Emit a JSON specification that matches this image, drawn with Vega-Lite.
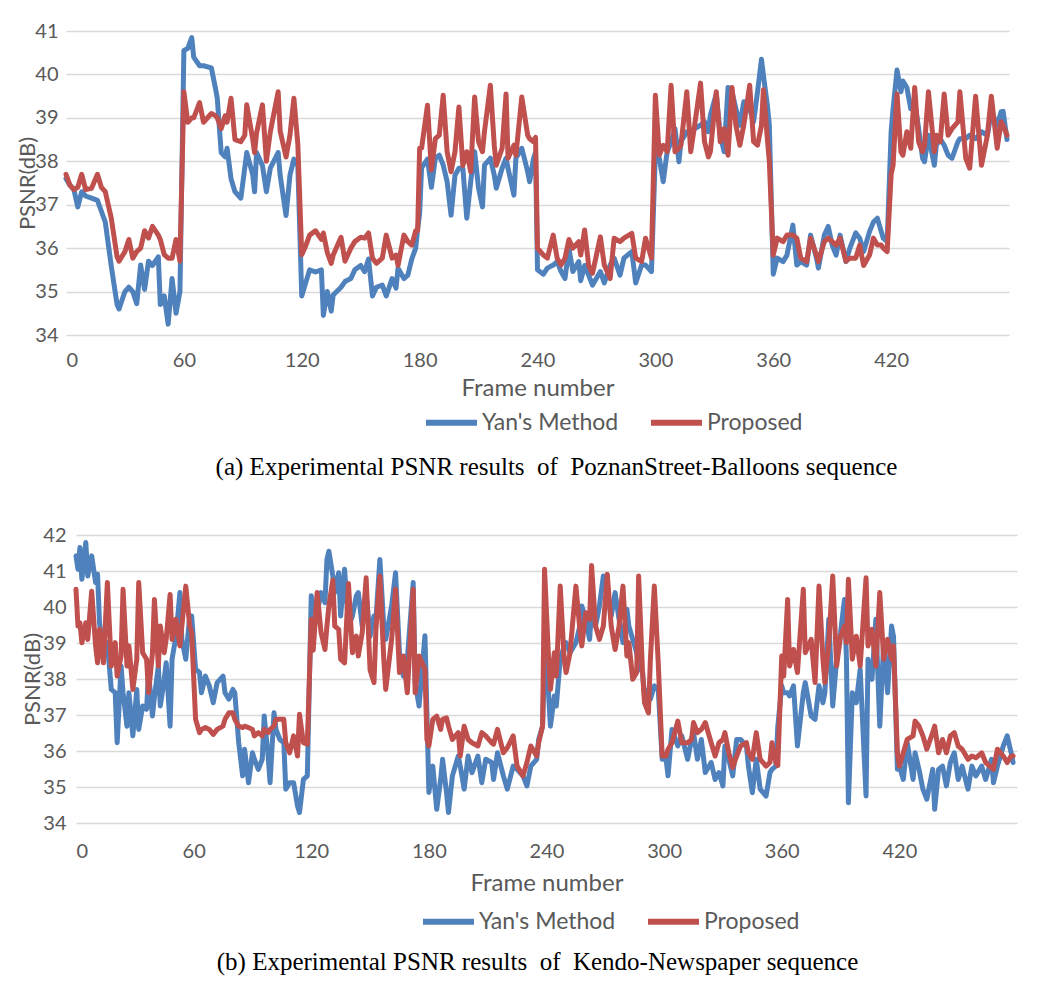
{
"$schema":"https://vega.github.io/schema/vega-lite/v6.json",
"autosize":{"type":"pad"},
"padding":{"left":16,"top":21,"right":5,"bottom":5},
"background":"white",
"config":{"view":{"stroke":null},"font":"Lato",
"axis":{"labelFont":"Lato","titleFont":"Lato","labelColor":"#595959","titleColor":"#595959","gridColor":"#d9d9d9","gridWidth":1.5,"domain":false,"ticks":false,"tickSize":0,"titleFontWeight":"normal","labelFontSize":20,"titleFontSize":24},
"legend":{"labelFont":"Lato","labelFontSize":23,"labelColor":"#595959","symbolType":"stroke","symbolStrokeWidth":6,"symbolSize":2600,"labelOffset":2,"columnPadding":20,"direction":"horizontal","orient":"none","title":null},
"title":{"font":"Liberation Serif","fontSize":25,"fontWeight":"normal","color":"black","orient":"bottom","anchor":"middle"}},
"spacing":45,
"columns":1,
"align":"none",
"resolve":{"scale":{"color":"independent"},"legend":{"color":"independent"}},
"concat":[
{"width":943,"height":304,
"title":{"text":"(a) Experimental PSNR results\u00a0 of\u00a0 PoznanStreet-Balloons sequence","offset":20,"dx":19},
"data":{"values":[
{"f":0,"Yan":37.6,"Prop":37.7},{"f":2,"Yan":37.45,"Prop":37.45},{"f":4,"Yan":37.35,"Prop":37.35},{"f":6,"Yan":36.95,"Prop":37.4},{"f":8,"Yan":37.3,"Prop":37.7},{"f":10,"Yan":37.2,"Prop":37.35},{"f":13,"Yan":37.15,"Prop":37.38},{"f":16,"Yan":37.1,"Prop":37.7},{"f":18,"Yan":36.85,"Prop":37.4},{"f":20,"Yan":36.6,"Prop":37.3},{"f":23,"Yan":35.6,"Prop":36.7},{"f":26,"Yan":34.7,"Prop":35.8},{"f":27,"Yan":34.6,"Prop":35.7},{"f":30,"Yan":35.0,"Prop":35.92},{"f":32,"Yan":35.1,"Prop":36.2},{"f":34,"Yan":35.0,"Prop":35.77},{"f":36,"Yan":34.72,"Prop":35.92},{"f":38,"Yan":35.61,"Prop":36.0},{"f":40,"Yan":35.05,"Prop":36.4},{"f":42,"Yan":35.7,"Prop":36.23},{"f":44,"Yan":35.6,"Prop":36.5},{"f":47,"Yan":35.8,"Prop":36.3},{"f":48,"Yan":34.7,"Prop":36.2},{"f":50,"Yan":34.9,"Prop":35.85},{"f":52,"Yan":34.25,"Prop":35.77},{"f":54,"Yan":35.3,"Prop":35.77},{"f":56,"Yan":34.5,"Prop":36.2},{"f":58,"Yan":35.0,"Prop":35.7},
{"f":60,"Yan":40.55,"Prop":39.6},{"f":62,"Yan":40.6,"Prop":38.9},{"f":64,"Yan":40.85,"Prop":39.0},{"f":65,"Yan":40.4,"Prop":39.0},{"f":68,"Yan":40.2,"Prop":39.35},{"f":70,"Yan":40.2,"Prop":38.9},{"f":74,"Yan":40.15,"Prop":39.1},{"f":76,"Yan":39.7,"Prop":39.05},{"f":77,"Yan":39.45,"Prop":39.0},{"f":79,"Yan":38.2,"Prop":38.75},{"f":81,"Yan":38.1,"Prop":39.05},{"f":82,"Yan":38.3,"Prop":38.9},{"f":84,"Yan":37.6,"Prop":39.45},{"f":86,"Yan":37.3,"Prop":38.5},{"f":89,"Yan":37.15,"Prop":38.45},{"f":91,"Yan":37.85,"Prop":38.6},{"f":92,"Yan":38.2,"Prop":39.3},{"f":95,"Yan":37.7,"Prop":38.52},{"f":96,"Yan":37.3,"Prop":38.2},{"f":97,"Yan":38.2,"Prop":38.65},{"f":100,"Yan":37.9,"Prop":39.3},{"f":102,"Yan":37.3,"Prop":38.0},{"f":104,"Yan":37.84,"Prop":38.68},{"f":108,"Yan":38.2,"Prop":39.6},{"f":109,"Yan":37.68,"Prop":38.7},{"f":112,"Yan":36.75,"Prop":38.1},{"f":114,"Yan":37.68,"Prop":38.6},{"f":116,"Yan":38.05,"Prop":39.45},{"f":118,"Yan":37.9,"Prop":38.4},
{"f":120,"Yan":34.9,"Prop":35.85},{"f":122,"Yan":35.2,"Prop":36.05},{"f":124,"Yan":35.5,"Prop":36.3},{"f":127,"Yan":35.45,"Prop":36.4},{"f":130,"Yan":35.5,"Prop":36.2},{"f":131,"Yan":34.45,"Prop":36.35},{"f":133,"Yan":35.0,"Prop":35.9},{"f":135,"Yan":34.55,"Prop":35.65},{"f":136,"Yan":34.92,"Prop":35.84},{"f":140,"Yan":35.1,"Prop":36.25},{"f":142,"Yan":35.23,"Prop":35.7},{"f":145,"Yan":35.3,"Prop":36.0},{"f":147,"Yan":35.5,"Prop":36.15},{"f":150,"Yan":35.6,"Prop":36.25},{"f":152,"Yan":35.46,"Prop":36.23},{"f":154,"Yan":35.75,"Prop":36.35},{"f":156,"Yan":34.9,"Prop":35.77},{"f":158,"Yan":35.1,"Prop":35.65},{"f":161,"Yan":35.15,"Prop":35.77},{"f":163,"Yan":34.9,"Prop":36.3},{"f":166,"Yan":35.3,"Prop":35.77},{"f":168,"Yan":35.08,"Prop":35.84},{"f":169,"Yan":35.54,"Prop":35.6},{"f":172,"Yan":35.3,"Prop":36.3},{"f":174,"Yan":35.38,"Prop":36.15},{"f":176,"Yan":35.75,"Prop":36.07},{"f":178,"Yan":36.0,"Prop":36.4},{"f":179,"Yan":36.45,"Prop":36.4},
{"f":180,"Yan":36.8,"Prop":38.3},{"f":181,"Yan":37.85,"Prop":38.3},{"f":184,"Yan":38.05,"Prop":39.29},{"f":186,"Yan":37.4,"Prop":37.8},{"f":188,"Yan":38.07,"Prop":38.52},{"f":190,"Yan":38.14,"Prop":38.6},{"f":192,"Yan":37.91,"Prop":39.52},{"f":194,"Yan":37.53,"Prop":38.22},{"f":196,"Yan":36.76,"Prop":37.76},{"f":198,"Yan":37.68,"Prop":38.22},{"f":200,"Yan":37.84,"Prop":39.25},{"f":202,"Yan":37.84,"Prop":37.9},{"f":204,"Yan":36.69,"Prop":38.22},{"f":206,"Yan":37.53,"Prop":37.76},{"f":208,"Yan":38.22,"Prop":39.48},{"f":210,"Yan":37.38,"Prop":38.45},{"f":212,"Yan":36.95,"Prop":38.22},{"f":213,"Yan":37.91,"Prop":38.68},{"f":216,"Yan":38.07,"Prop":39.75},{"f":218,"Yan":37.68,"Prop":38.37},{"f":219,"Yan":37.38,"Prop":37.91},{"f":222,"Yan":37.84,"Prop":38.3},{"f":224,"Yan":38.07,"Prop":39.55},{"f":225,"Yan":37.84,"Prop":38.07},{"f":228,"Yan":37.22,"Prop":38.37},{"f":229,"Yan":38.07,"Prop":38.14},{"f":232,"Yan":38.3,"Prop":39.48},{"f":235,"Yan":37.76,"Prop":38.6},{"f":236,"Yan":37.53,"Prop":38.52},{"f":238,"Yan":38.07,"Prop":38.45},{"f":239,"Yan":38.2,"Prop":38.55},
{"f":240,"Yan":35.5,"Prop":36.0},{"f":243,"Yan":35.4,"Prop":35.84},{"f":245,"Yan":35.54,"Prop":35.77},{"f":248,"Yan":35.61,"Prop":36.3},{"f":250,"Yan":35.69,"Prop":35.77},{"f":252,"Yan":35.46,"Prop":35.61},{"f":254,"Yan":35.3,"Prop":35.77},{"f":256,"Yan":36.0,"Prop":36.2},{"f":258,"Yan":35.46,"Prop":36.0},{"f":261,"Yan":35.69,"Prop":36.15},{"f":262,"Yan":35.25,"Prop":35.84},{"f":264,"Yan":35.6,"Prop":36.42},{"f":266,"Yan":35.38,"Prop":35.61},{"f":268,"Yan":35.15,"Prop":35.42},{"f":272,"Yan":35.46,"Prop":36.26},{"f":274,"Yan":35.2,"Prop":35.61},{"f":277,"Yan":35.61,"Prop":35.3},{"f":279,"Yan":35.77,"Prop":36.23},{"f":282,"Yan":35.38,"Prop":36.15},{"f":284,"Yan":35.77,"Prop":36.23},{"f":288,"Yan":35.92,"Prop":36.34},{"f":290,"Yan":35.2,"Prop":35.77},{"f":293,"Yan":35.61,"Prop":35.69},{"f":295,"Yan":35.61,"Prop":36.23},{"f":298,"Yan":35.46,"Prop":35.77},
{"f":300,"Yan":38.2,"Prop":39.52},{"f":302,"Yan":38.07,"Prop":38.14},{"f":304,"Yan":37.53,"Prop":38.37},{"f":306,"Yan":38.22,"Prop":38.22},{"f":308,"Yan":38.45,"Prop":39.75},{"f":310,"Yan":38.75,"Prop":38.22},{"f":312,"Yan":37.99,"Prop":38.3},{"f":313,"Yan":38.45,"Prop":38.37},{"f":316,"Yan":38.68,"Prop":39.6},{"f":318,"Yan":38.68,"Prop":38.22},{"f":320,"Yan":38.75,"Prop":38.83},{"f":323,"Yan":38.83,"Prop":39.8},{"f":325,"Yan":38.91,"Prop":38.45},{"f":327,"Yan":38.68,"Prop":38.1},{"f":328,"Yan":39.06,"Prop":38.22},{"f":331,"Yan":39.55,"Prop":39.6},{"f":333,"Yan":38.6,"Prop":38.45},{"f":335,"Yan":38.22,"Prop":38.75},{"f":337,"Yan":39.7,"Prop":38.14},{"f":339,"Yan":39.6,"Prop":39.7},{"f":341,"Yan":39.21,"Prop":38.83},{"f":343,"Yan":38.83,"Prop":38.37},{"f":345,"Yan":39.37,"Prop":38.83},{"f":348,"Yan":39.21,"Prop":39.75},{"f":350,"Yan":38.91,"Prop":38.45},{"f":352,"Yan":39.6,"Prop":38.37},{"f":354,"Yan":40.35,"Prop":38.83},{"f":355,"Yan":39.98,"Prop":39.65},{"f":357,"Yan":39.29,"Prop":38.52},{"f":358,"Yan":38.83,"Prop":38.0},
{"f":360,"Yan":35.4,"Prop":35.84},{"f":362,"Yan":35.77,"Prop":36.23},{"f":365,"Yan":35.69,"Prop":36.15},{"f":367,"Yan":35.84,"Prop":36.3},{"f":370,"Yan":36.53,"Prop":36.3},{"f":372,"Yan":35.61,"Prop":36.23},{"f":374,"Yan":35.69,"Prop":35.77},{"f":377,"Yan":35.61,"Prop":35.69},{"f":379,"Yan":36.3,"Prop":36.23},{"f":382,"Yan":35.77,"Prop":35.84},{"f":383,"Yan":35.54,"Prop":35.69},{"f":386,"Yan":36.3,"Prop":36.15},{"f":388,"Yan":36.5,"Prop":36.23},{"f":390,"Yan":36.07,"Prop":36.15},{"f":392,"Yan":35.84,"Prop":36.07},{"f":394,"Yan":36.3,"Prop":36.23},{"f":397,"Yan":35.69,"Prop":35.7},{"f":399,"Yan":36.0,"Prop":35.77},{"f":402,"Yan":36.35,"Prop":35.77},{"f":404,"Yan":36.23,"Prop":36.07},{"f":406,"Yan":35.92,"Prop":35.6},{"f":409,"Yan":36.38,"Prop":35.84},{"f":411,"Yan":36.6,"Prop":36.23},{"f":413,"Yan":36.69,"Prop":36.07},{"f":415,"Yan":36.38,"Prop":36.07},{"f":416,"Yan":36.23,"Prop":36.0},{"f":418,"Yan":36.15,"Prop":35.92},
{"f":420,"Yan":38.68,"Prop":37.7},{"f":421,"Yan":39.21,"Prop":37.91},{"f":423,"Yan":40.1,"Prop":39.55},{"f":425,"Yan":39.6,"Prop":38.22},{"f":426,"Yan":39.85,"Prop":38.14},{"f":428,"Yan":39.7,"Prop":38.68},{"f":430,"Yan":39.21,"Prop":38.3},{"f":432,"Yan":39.37,"Prop":39.7},{"f":434,"Yan":38.75,"Prop":38.45},{"f":436,"Yan":38.07,"Prop":38.22},{"f":437,"Yan":37.99,"Prop":38.37},{"f":439,"Yan":38.6,"Prop":39.6},{"f":442,"Yan":37.91,"Prop":38.22},{"f":443,"Yan":38.37,"Prop":38.6},{"f":445,"Yan":38.52,"Prop":38.45},{"f":447,"Yan":38.37,"Prop":39.55},{"f":449,"Yan":38.14,"Prop":38.6},{"f":451,"Yan":38.07,"Prop":38.75},{"f":454,"Yan":38.45,"Prop":38.91},{"f":455,"Yan":38.52,"Prop":39.6},{"f":458,"Yan":38.52,"Prop":38.07},{"f":460,"Yan":38.6,"Prop":37.84},{"f":463,"Yan":38.52,"Prop":39.5},{"f":466,"Yan":38.68,"Prop":37.91},{"f":469,"Yan":38.6,"Prop":38.6},{"f":471,"Yan":39.14,"Prop":39.5},{"f":474,"Yan":38.83,"Prop":38.3},{"f":476,"Yan":39.14,"Prop":38.91},{"f":477,"Yan":39.15,"Prop":38.83},{"f":479,"Yan":38.5,"Prop":38.6}
]},
"transform":[{"fold":["Yan","Prop"],"as":["series","psnr"]}],
"mark":{"type":"line","strokeWidth":5,"strokeJoin":"round","strokeCap":"round"},
"encoding":{
"x":{"field":"f","type":"quantitative","scale":{"domain":[0,480],"nice":false,"zero":false},"axis":{"values":[0,60,120,180,240,300,360,420],"grid":false,"title":"Frame number","labelPadding":15,"titlePadding":6}},
"y":{"field":"psnr","type":"quantitative","scale":{"domain":[34,41],"nice":false,"zero":false},"axis":{"values":[34,35,36,37,38,39,40,41],"title":"PSNR(dB)","labelPadding":8,"titlePadding":-5,"titleFontSize":22}},
"color":{"field":"series","type":"nominal","scale":{"domain":["Yan","Prop"],"range":["#4F81BD","#C0504D"]},"legend":{"labelExpr":"datum.value == 'Yan' ? \"Yan's Method\" : 'Proposed'","legendX":357,"legendY":363}}
}},
{"width":951,"height":288,
"title":{"text":"(b) Experimental PSNR results\u00a0 of\u00a0 Kendo-Newspaper sequence","offset":16,"dx":-4},
"data":{"values":[
{"f":0,"Yan":41.42,"Prop":40.49},{"f":1,"Yan":41.05,"Prop":39.47},{"f":2,"Yan":41.65,"Prop":39.56},{"f":3,"Yan":40.77,"Prop":39.01},{"f":5,"Yan":41.79,"Prop":39.56},{"f":6,"Yan":40.86,"Prop":39.1},{"f":8,"Yan":41.42,"Prop":40.44},{"f":10,"Yan":40.68,"Prop":38.92},{"f":11,"Yan":40.91,"Prop":38.45},{"f":12,"Yan":39.56,"Prop":39.38},{"f":14,"Yan":38.73,"Prop":38.45},{"f":16,"Yan":39.01,"Prop":40.68},{"f":18,"Yan":37.71,"Prop":38.36},{"f":20,"Yan":37.62,"Prop":39.01},{"f":21,"Yan":36.23,"Prop":38.08},{"f":23,"Yan":38.36,"Prop":38.64},{"f":24,"Yan":37.62,"Prop":40.49},{"f":26,"Yan":36.69,"Prop":38.36},{"f":27,"Yan":37.62,"Prop":38.92},{"f":29,"Yan":36.42,"Prop":37.71},{"f":31,"Yan":37.71,"Prop":38.55},{"f":32,"Yan":36.6,"Prop":40.68},{"f":34,"Yan":37.25,"Prop":38.73},{"f":36,"Yan":37.16,"Prop":38.55},{"f":37,"Yan":38.18,"Prop":37.62},{"f":39,"Yan":36.97,"Prop":38.73},{"f":40,"Yan":37.5,"Prop":40.21},{"f":42,"Yan":38.36,"Prop":38.36},{"f":43,"Yan":37.25,"Prop":39.47},{"f":45,"Yan":37.99,"Prop":38.73},{"f":46,"Yan":38.45,"Prop":39.1},{"f":48,"Yan":36.69,"Prop":40.35},{"f":49,"Yan":38.55,"Prop":39.1},{"f":51,"Yan":39.19,"Prop":39.66},{"f":53,"Yan":40.4,"Prop":38.92},{"f":54,"Yan":39.1,"Prop":39.47},{"f":56,"Yan":38.55,"Prop":40.58},{"f":58,"Yan":39.75,"Prop":39.47},{"f":59,"Yan":39.75,"Prop":39.29},
{"f":61,"Yan":38.27,"Prop":36.88},{"f":63,"Yan":38.18,"Prop":36.51},{"f":64,"Yan":37.62,"Prop":36.6},{"f":66,"Yan":38.08,"Prop":36.65},{"f":68,"Yan":37.81,"Prop":36.6},{"f":70,"Yan":37.34,"Prop":36.46},{"f":72,"Yan":37.9,"Prop":36.6},{"f":75,"Yan":38.08,"Prop":36.69},{"f":76,"Yan":37.62,"Prop":36.88},{"f":78,"Yan":37.44,"Prop":37.06},{"f":80,"Yan":37.71,"Prop":37.06},{"f":81,"Yan":37.62,"Prop":36.88},{"f":83,"Yan":36.23,"Prop":36.69},{"f":85,"Yan":35.31,"Prop":36.65},{"f":86,"Yan":36.05,"Prop":36.69},{"f":88,"Yan":35.12,"Prop":36.65},{"f":90,"Yan":35.95,"Prop":36.6},{"f":91,"Yan":35.77,"Prop":36.42},{"f":93,"Yan":35.49,"Prop":36.51},{"f":95,"Yan":35.77,"Prop":36.42},{"f":96,"Yan":36.97,"Prop":36.6},{"f":98,"Yan":35.86,"Prop":36.51},{"f":99,"Yan":35.12,"Prop":36.6},{"f":101,"Yan":37.06,"Prop":36.69},{"f":102,"Yan":36.6,"Prop":36.88},{"f":104,"Yan":36.32,"Prop":36.88},{"f":106,"Yan":36.23,"Prop":36.88},{"f":107,"Yan":34.94,"Prop":36.23},{"f":109,"Yan":35.12,"Prop":35.95},{"f":111,"Yan":35.12,"Prop":36.42},{"f":113,"Yan":34.47,"Prop":35.86},{"f":114,"Yan":34.29,"Prop":37.02},{"f":116,"Yan":35.21,"Prop":36.23},{"f":118,"Yan":35.31,"Prop":36.19},
{"f":120,"Yan":40.31,"Prop":39.66},{"f":121,"Yan":39.94,"Prop":38.8},{"f":123,"Yan":39.84,"Prop":40.4},{"f":125,"Yan":40.4,"Prop":39.29},{"f":127,"Yan":40.12,"Prop":38.82},{"f":128,"Yan":41.32,"Prop":39.47},{"f":129,"Yan":41.55,"Prop":40.03},{"f":131,"Yan":40.86,"Prop":40.75},{"f":132,"Yan":40.4,"Prop":39.47},{"f":134,"Yan":40.95,"Prop":39.38},{"f":135,"Yan":39.75,"Prop":38.55},{"f":137,"Yan":41.05,"Prop":38.45},{"f":139,"Yan":39.47,"Prop":40.65},{"f":141,"Yan":39.75,"Prop":38.73},{"f":143,"Yan":40.31,"Prop":39.19},{"f":144,"Yan":40.4,"Prop":38.64},{"f":146,"Yan":39.47,"Prop":39.29},{"f":148,"Yan":40.4,"Prop":40.81},{"f":150,"Yan":39.19,"Prop":38.25},{"f":152,"Yan":39.75,"Prop":37.9},{"f":153,"Yan":39.66,"Prop":39.38},{"f":155,"Yan":41.32,"Prop":40.86},{"f":157,"Yan":39.47,"Prop":38.55},{"f":158,"Yan":39.1,"Prop":37.71},{"f":161,"Yan":40.03,"Prop":39.1},{"f":163,"Yan":40.95,"Prop":40.49},{"f":165,"Yan":38.73,"Prop":38.18},{"f":167,"Yan":38.08,"Prop":38.64},{"f":169,"Yan":38.55,"Prop":37.62},{"f":172,"Yan":40.68,"Prop":40.49},{"f":173,"Yan":37.9,"Prop":37.62},{"f":175,"Yan":37.25,"Prop":38.64},{"f":178,"Yan":39.2,"Prop":38.27},{"f":179,"Yan":37.06,"Prop":36.32},
{"f":180,"Yan":34.85,"Prop":36.14},{"f":182,"Yan":35.58,"Prop":36.88},{"f":184,"Yan":34.38,"Prop":36.97},{"f":186,"Yan":35.21,"Prop":36.6},{"f":187,"Yan":35.77,"Prop":36.88},{"f":189,"Yan":34.84,"Prop":36.92},{"f":190,"Yan":34.29,"Prop":36.69},{"f":192,"Yan":35.31,"Prop":36.32},{"f":195,"Yan":35.86,"Prop":36.51},{"f":196,"Yan":35.58,"Prop":35.86},{"f":198,"Yan":34.94,"Prop":36.69},{"f":200,"Yan":35.86,"Prop":36.32},{"f":202,"Yan":35.4,"Prop":36.23},{"f":205,"Yan":35.86,"Prop":36.14},{"f":207,"Yan":35.12,"Prop":36.51},{"f":209,"Yan":35.77,"Prop":36.42},{"f":212,"Yan":35.68,"Prop":36.23},{"f":213,"Yan":35.21,"Prop":36.19},{"f":215,"Yan":35.95,"Prop":36.6},{"f":218,"Yan":35.31,"Prop":35.95},{"f":220,"Yan":34.94,"Prop":36.09},{"f":223,"Yan":35.58,"Prop":36.42},{"f":225,"Yan":35.49,"Prop":35.58},{"f":228,"Yan":35.31,"Prop":35.31},{"f":230,"Yan":35.03,"Prop":35.68},{"f":232,"Yan":35.58,"Prop":36.14},{"f":235,"Yan":35.77,"Prop":35.86},{"f":236,"Yan":36.32,"Prop":36.23},{"f":238,"Yan":36.69,"Prop":36.69},
{"f":239,"Yan":38.55,"Prop":41.05},{"f":241,"Yan":37.62,"Prop":38.64},{"f":242,"Yan":36.69,"Prop":37.71},{"f":244,"Yan":37.53,"Prop":38.73},{"f":245,"Yan":37.25,"Prop":38.08},{"f":247,"Yan":38.55,"Prop":40.58},{"f":249,"Yan":38.92,"Prop":38.55},{"f":250,"Yan":39.01,"Prop":38.18},{"f":252,"Yan":38.73,"Prop":38.73},{"f":255,"Yan":39.01,"Prop":40.58},{"f":257,"Yan":39.47,"Prop":39.38},{"f":258,"Yan":40.03,"Prop":38.92},{"f":260,"Yan":39.66,"Prop":39.84},{"f":262,"Yan":39.1,"Prop":39.66},{"f":263,"Yan":39.94,"Prop":41.15},{"f":265,"Yan":39.47,"Prop":39.47},{"f":267,"Yan":40.03,"Prop":39.1},{"f":269,"Yan":40.86,"Prop":39.47},{"f":271,"Yan":40.4,"Prop":40.91},{"f":273,"Yan":39.75,"Prop":39.47},{"f":275,"Yan":40.4,"Prop":38.82},{"f":277,"Yan":39.66,"Prop":39.47},{"f":279,"Yan":39.01,"Prop":40.58},{"f":281,"Yan":39.94,"Prop":38.64},{"f":282,"Yan":39.47,"Prop":39.01},{"f":284,"Yan":39.1,"Prop":37.99},{"f":286,"Yan":38.73,"Prop":38.18},{"f":287,"Yan":38.36,"Prop":40.86},{"f":289,"Yan":38.18,"Prop":38.18},{"f":290,"Yan":37.53,"Prop":37.34},{"f":292,"Yan":37.71,"Prop":37.06},{"f":293,"Yan":37.44,"Prop":38.55},{"f":295,"Yan":37.81,"Prop":40.58},{"f":297,"Yan":37.71,"Prop":38.45},
{"f":299,"Yan":35.77,"Prop":35.86},{"f":301,"Yan":35.77,"Prop":35.86},{"f":302,"Yan":35.31,"Prop":36.05},{"f":304,"Yan":36.6,"Prop":36.23},{"f":307,"Yan":36.14,"Prop":36.83},{"f":309,"Yan":36.42,"Prop":36.23},{"f":312,"Yan":35.77,"Prop":36.23},{"f":314,"Yan":36.32,"Prop":36.32},{"f":315,"Yan":36.51,"Prop":36.79},{"f":317,"Yan":35.77,"Prop":36.51},{"f":319,"Yan":36.32,"Prop":36.6},{"f":321,"Yan":35.4,"Prop":36.79},{"f":324,"Yan":35.68,"Prop":36.23},{"f":326,"Yan":35.21,"Prop":35.86},{"f":328,"Yan":35.4,"Prop":36.23},{"f":330,"Yan":35.03,"Prop":36.32},{"f":331,"Yan":36.14,"Prop":36.51},{"f":333,"Yan":35.77,"Prop":35.95},{"f":335,"Yan":35.31,"Prop":35.54},{"f":337,"Yan":36.32,"Prop":35.86},{"f":339,"Yan":36.32,"Prop":36.14},{"f":342,"Yan":36.14,"Prop":36.23},{"f":343,"Yan":35.58,"Prop":35.95},{"f":345,"Yan":34.84,"Prop":35.77},{"f":347,"Yan":35.77,"Prop":36.51},{"f":349,"Yan":34.94,"Prop":35.77},{"f":352,"Yan":34.75,"Prop":35.58},{"f":354,"Yan":35.4,"Prop":35.68},{"f":355,"Yan":35.49,"Prop":36.23},{"f":357,"Yan":35.58,"Prop":35.68},{"f":358,"Yan":36.69,"Prop":35.6},
{"f":360,"Yan":37.81,"Prop":38.64},{"f":361,"Yan":37.62,"Prop":38.08},{"f":363,"Yan":37.62,"Prop":40.21},{"f":364,"Yan":37.53,"Prop":38.36},{"f":366,"Yan":37.81,"Prop":38.82},{"f":368,"Yan":36.14,"Prop":38.18},{"f":371,"Yan":37.62,"Prop":40.49},{"f":372,"Yan":37.9,"Prop":38.73},{"f":375,"Yan":36.97,"Prop":39.1},{"f":377,"Yan":36.88,"Prop":37.9},{"f":379,"Yan":37.81,"Prop":40.58},{"f":381,"Yan":37.34,"Prop":38.55},{"f":382,"Yan":37.62,"Prop":37.9},{"f":384,"Yan":39.66,"Prop":39.01},{"f":386,"Yan":37.25,"Prop":40.86},{"f":388,"Yan":38.55,"Prop":38.36},{"f":390,"Yan":39.29,"Prop":39.19},{"f":392,"Yan":40.21,"Prop":39.47},{"f":393,"Yan":38.55,"Prop":39.01},{"f":394,"Yan":34.56,"Prop":40.77},{"f":396,"Yan":37.62,"Prop":38.55},{"f":398,"Yan":37.34,"Prop":39.19},{"f":400,"Yan":38.27,"Prop":38.36},{"f":403,"Yan":34.75,"Prop":40.81},{"f":404,"Yan":38.55,"Prop":38.92},{"f":406,"Yan":37.99,"Prop":39.38},{"f":408,"Yan":39.66,"Prop":38.36},{"f":410,"Yan":36.69,"Prop":40.4},{"f":412,"Yan":39.01,"Prop":38.55},{"f":414,"Yan":37.62,"Prop":39.1},{"f":416,"Yan":39.47,"Prop":38.55},{"f":417,"Yan":39.19,"Prop":38.92},
{"f":419,"Yan":35.49,"Prop":35.95},{"f":420,"Yan":35.58,"Prop":35.58},{"f":422,"Yan":35.21,"Prop":35.95},{"f":424,"Yan":36.23,"Prop":36.32},{"f":427,"Yan":35.21,"Prop":36.42},{"f":428,"Yan":35.95,"Prop":36.83},{"f":430,"Yan":35.49,"Prop":36.69},{"f":432,"Yan":34.94,"Prop":36.42},{"f":434,"Yan":34.66,"Prop":36.05},{"f":437,"Yan":35.49,"Prop":36.51},{"f":438,"Yan":34.38,"Prop":36.69},{"f":440,"Yan":35.49,"Prop":35.95},{"f":442,"Yan":35.58,"Prop":36.32},{"f":444,"Yan":35.03,"Prop":35.95},{"f":446,"Yan":35.68,"Prop":36.42},{"f":448,"Yan":35.95,"Prop":36.51},{"f":450,"Yan":35.21,"Prop":36.14},{"f":452,"Yan":35.58,"Prop":36.05},{"f":455,"Yan":34.94,"Prop":35.77},{"f":457,"Yan":35.58,"Prop":35.86},{"f":459,"Yan":35.31,"Prop":35.81},{"f":462,"Yan":35.58,"Prop":35.95},{"f":464,"Yan":35.21,"Prop":35.68},{"f":467,"Yan":35.77,"Prop":35.54},{"f":468,"Yan":35.12,"Prop":35.49},{"f":470,"Yan":35.58,"Prop":36.05},{"f":473,"Yan":36.14,"Prop":35.86},{"f":475,"Yan":36.42,"Prop":35.68},{"f":477,"Yan":35.95,"Prop":35.86},{"f":478,"Yan":35.68,"Prop":35.86}
]},
"transform":[{"fold":["Yan","Prop"],"as":["series","psnr"]}],
"mark":{"type":"line","strokeWidth":5,"strokeJoin":"round","strokeCap":"round"},
"encoding":{
"x":{"field":"f","type":"quantitative","scale":{"domain":[0,480],"range":[10,951],"nice":false,"zero":false},"axis":{"values":[0,60,120,180,240,300,360,420],"grid":false,"title":"Frame number","labelPadding":18,"titlePadding":10}},
"y":{"field":"psnr","type":"quantitative","scale":{"domain":[34,42],"nice":false,"zero":false},"axis":{"values":[34,35,36,37,38,39,40,41,42],"title":"PSNR(dB)","labelPadding":0,"titlePadding":-2,"titleFontSize":22}},
"color":{"field":"series","type":"nominal","scale":{"domain":["Yan","Prop"],"range":["#4F81BD","#C0504D"]},"legend":{"labelExpr":"datum.value == 'Yan' ? \"Yan's Method\" : 'Proposed'","legendX":354,"legendY":358}}
}}
]}
